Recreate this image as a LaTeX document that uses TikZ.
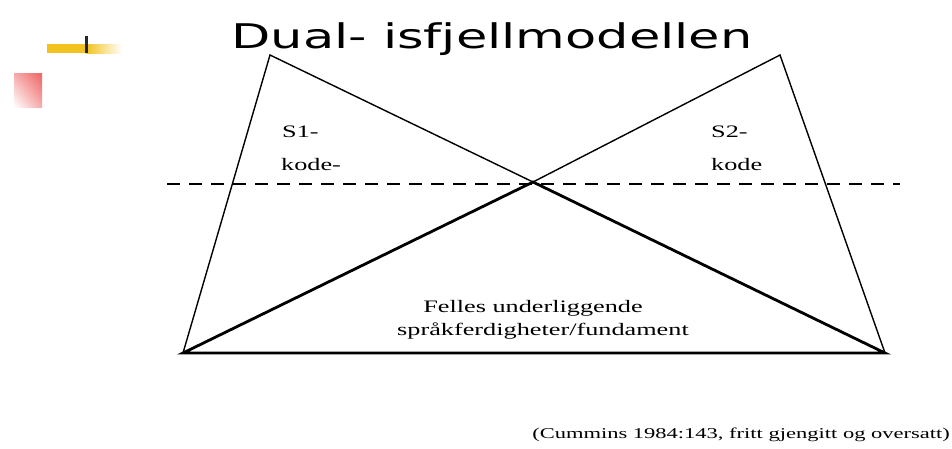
\documentclass[tikz,border=0pt]{standalone}
\usepackage{fontspec}
\usepackage{graphicx}
\usetikzlibrary{shadings}
\setmainfont{Liberation Serif}
\newfontfamily\titlefont{DejaVu Sans}
\definecolor{baryellow}{HTML}{F2C21E}
\definecolor{pinkred}{HTML}{EE6464}
\definecolor{pinkmid}{HTML}{F6AAAA}
\tikzset{
  thinline/.style={line width=1.4pt, black},
  thickline/.style={line width=2.8pt, black, line join=miter},
  dashline/.style={line width=2.5pt, black, dash pattern=on 13pt off 9pt},
  lbl/.style={inner sep=0pt, font=\fontsize{17.5}{20}\selectfont},
  cite/.style={inner sep=0pt, font=\fontsize{15}{18}\selectfont},
}
\newcommand{\wide}[1]{\scalebox{1.5}[1]{#1}}
\begin{document}
\begin{tikzpicture}[x=1pt,y=1pt]
\useasboundingbox (0,0) rectangle (952,-448);
% decorations
\fill[baryellow] (47,-44) rectangle (86,-53);
\shade[left color=baryellow, right color=white] (86,-44) rectangle (122,-53);
\fill[black!85] (85,-36) rectangle (88,-53);
\shade[upper right=pinkred, upper left=pinkmid, lower right=pinkmid, lower left=white] (14,-73) rectangle (42,-107);
% title
\node[inner sep=0pt, anchor=base, font=\titlefont\fontsize{34}{40}\selectfont] (title) at (492,-48) {\wide{Dual- isfjellmodellen}};
% vertices
\coordinate (lt) at (270,-55);
\coordinate (rt) at (780,-55);
\coordinate (lb) at (183,-353);
\coordinate (rb) at (885,-353);
\coordinate (ap) at (533,-182);
\coordinate (dl) at (167,-184);
\coordinate (dr) at (900,-184);
% thin triangles
\draw[thinline] (lb) -- (lt) -- (ap);
\draw[thinline] (rb) -- (rt) -- (ap);
% dashed line
\draw[dashline] (dl) -- (dr);
% thick base triangle
\draw[thickline] (lb) -- (ap) -- (rb) -- cycle;
% labels
\node[lbl, anchor=base west] (s1) at (282,-137) {\wide{S1-}};
\node[lbl, anchor=base west] (k1) at (281,-170) {\wide{kode-}};
\node[lbl, anchor=base west] (s2) at (711,-137) {\wide{S2-}};
\node[lbl, anchor=base west] (k2) at (711,-170) {\wide{kode}};
\node[lbl, anchor=base] (f1) at (533,-312) {\wide{Felles underliggende}};
\node[lbl, anchor=base] (f2) at (543,-335) {\wide{språkferdigheter/fundament}};
\node[cite, anchor=base east] (cit) at (950,-438) {\wide{(Cummins 1984:143, fritt gjengitt og oversatt)}};
\end{tikzpicture}
\end{document}
